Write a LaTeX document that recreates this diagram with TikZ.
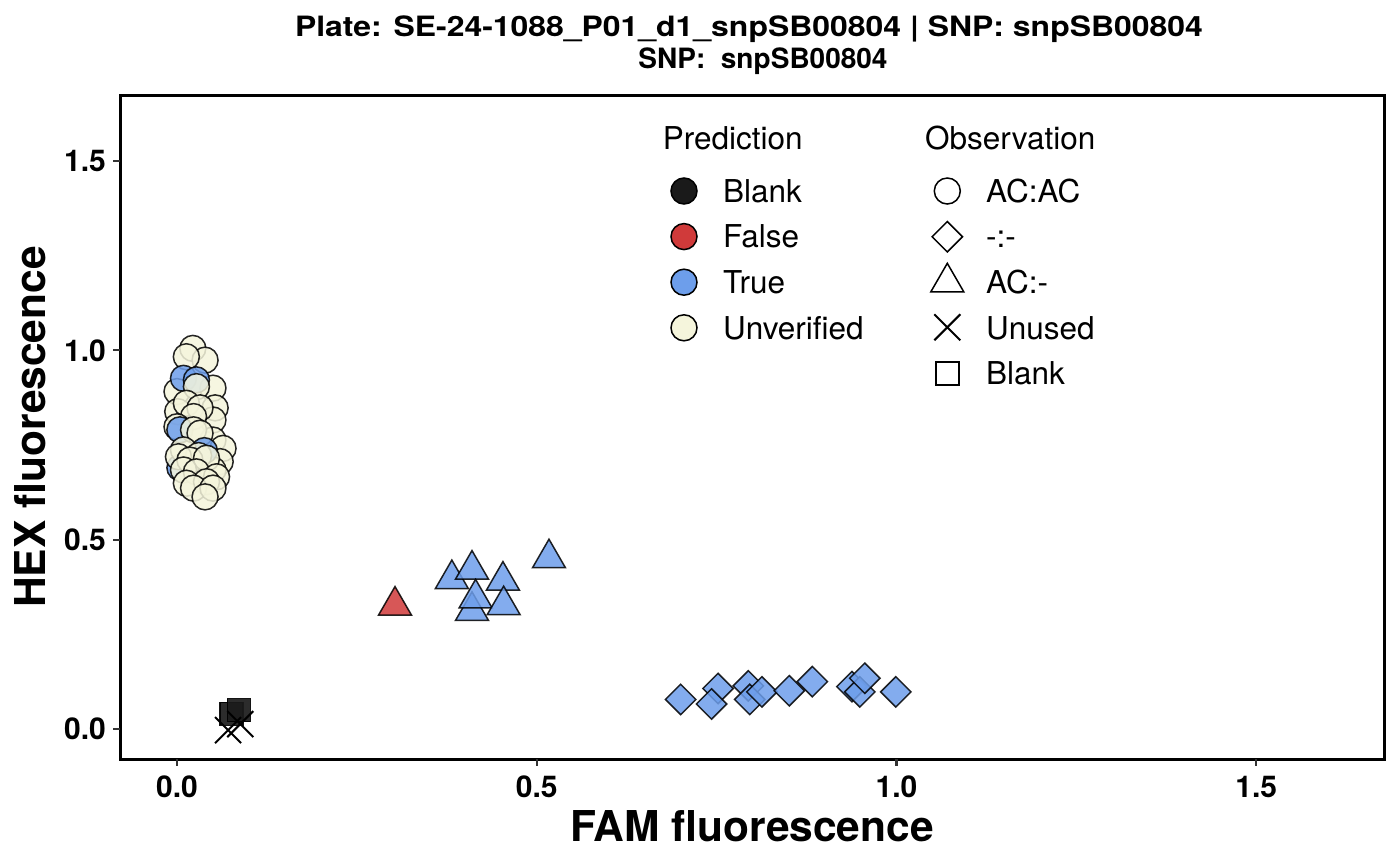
\documentclass[tikz,border=0pt]{standalone}
\usepackage{fontspec}
\setmainfont{TeX Gyre Heros}
\usetikzlibrary{shapes.geometric,shapes.misc}
\definecolor{blankfill}{RGB}{26,26,26}
\definecolor{falsefill}{RGB}{208,58,58}
\definecolor{truefill}{RGB}{109,158,235}
\definecolor{unverfill}{RGB}{245,245,220}
\definecolor{tickgray}{RGB}{51,51,51}
\newcommand{\legfont}{\fontsize{31.5}{36}\selectfont}
\newcommand{\tickfont}{\fontsize{30}{34}\selectfont\bfseries}
\newcommand{\axisfont}{\fontsize{42.5}{48}\selectfont\bfseries}
\newcommand{\titlefont}{\fontsize{28}{32}\selectfont\bfseries}

\begin{document}
\begin{tikzpicture}
    [x=1pt, y=-1pt,
 pnt/.style ={draw=black, line width=1.5pt, inner sep=0pt, opacity=0.85},
 circ/.style ={pnt, circle, minimum size=26pt},
 diam/.style ={pnt, diamond, minimum size=31pt},
 tri/.style ={pnt, regular polygon, regular polygon sides=3, minimum size=38pt},
 sqr/.style ={pnt, rectangle, minimum size=23pt},
 crs/.style ={draw=black, line width=2pt, cross out, minimum size=24pt, inner sep=0pt},
 legtext/.style ={font=\legfont, anchor=base west, inner sep=0pt},
 ticklab/.style ={font=\tickfont, inner sep=0pt},
 tick/.style ={draw=tickgray, line width=2.2pt}]
    \useasboundingbox (0,0) rectangle (1400,865);

    % title
    \node[font=\titlefont, anchor=base] (title) at (749,36.7) {\scalebox{1.14}[1]{Plate: SE-24-1088\_P01\_d1\_snpSB00804 | SNP: snpSB00804}};
    \node[font=\titlefont, anchor=base] (subtitle) at (763,68.3) {SNP:\ \ snpSB00804};

    % panel and ticks
    \node[draw, line width=3pt, minimum width=1264pt, minimum height=664pt, inner sep=0pt] (panel) at (752,427) {};
    \foreach \v in {0.0,0.5,1.0,1.5} {
        \draw[tick] ({177+719.5*\v},759) -- ++(0,7) node[ticklab, anchor=north, yshift=-9pt] {\v};
        \draw[tick] (113,{729-378.7*\v}) -- ++(7,0);
        \node[ticklab, anchor=east] at (106,{729-378.7*\v}) {\v};
    }
    \node[font=\axisfont, anchor=base] (xtitle) at (752,841) {FAM fluorescence};
    \node[font=\axisfont, anchor=base, rotate=90] (ytitle) at (45,427) {HEX fluorescence};

    % data
    \begin{scope}[shift={(177,729)}, x=719.5pt, y=378.7pt]
        \foreach \x/\y/\c [count=\i] in {0.022/1.005/unverfill, 0.039/0.974/unverfill, 0.013/0.983/unverfill,
            0.050/0.900/unverfill, 0.000/0.891/unverfill, 0.009/0.926/truefill, 0.027/0.922/truefill,
            0.027/0.904/unverfill, 0.053/0.848/unverfill, 0.050/0.816/unverfill, 0.001/0.838/unverfill,
            0.013/0.860/unverfill, 0.032/0.848/unverfill, 0.023/0.825/unverfill, 0.050/0.763/unverfill,
            0.064/0.741/unverfill, 0.000/0.798/unverfill, 0.004/0.790/truefill, 0.023/0.790/unverfill,
            0.032/0.781/unverfill, 0.060/0.706/unverfill, 0.050/0.684/unverfill, 0.004/0.690/truefill,
            0.038/0.735/truefill, 0.009/0.737/unverfill, 0.030/0.722/unverfill, 0.002/0.719/unverfill,
            0.018/0.710/unverfill, 0.041/0.715/unverfill, 0.009/0.684/unverfill, 0.027/0.679/unverfill,
            0.055/0.666/unverfill, 0.013/0.649/unverfill, 0.041/0.653/unverfill, 0.023/0.636/unverfill,
            0.050/0.636/unverfill, 0.039/0.613/unverfill}
            \node[circ, fill=\c] (c\i) at (\x,\y) {};
        \foreach \x/\y/\c [count=\i] in {0.303/0.326/falsefill, 0.382/0.396/truefill, 0.410/0.421/truefill,
            0.410/0.312/truefill, 0.415/0.345/truefill, 0.453/0.392/truefill, 0.454/0.327/truefill,
            0.517/0.451/truefill}
            \node[tri, fill=\c] (t\i) at (\x,\y) {};
        \foreach \x/\y [count=\i] in {0.700/0.078, 0.752/0.107, 0.743/0.066, 0.794/0.114, 0.796/0.078,
            0.813/0.098, 0.851/0.101, 0.883/0.125, 0.938/0.112, 0.949/0.098, 0.956/0.134, 0.999/0.098}
            \node[diam, fill=truefill] (d\i) at (\x,\y) {};
        \node[sqr, fill=blankfill, opacity=0.92] (s1) at (0.076,0.040) {};
        \node[sqr, fill=blankfill, opacity=0.92] (s2) at (0.086,0.050) {};
        \node[crs] (x1) at (0.071,-0.003) {};
        \node[crs] (x2) at (0.088,0.013) {};
    \end{scope}

    % legends
    \node[legtext] (predtitle) at (662.7,149.3) {Prediction};
    \foreach \c/\t [count=\i] in {blankfill/Blank, falsefill/False, truefill/True, unverfill/Unverified} {
        \node[circ, fill=\c, opacity=1] (pk\i) at (684,{191+45.6*(\i-1)}) {};
        \node[legtext] (pl\i) at (723,{202.3+45.6*(\i-1)}) {\t};
    }
    \node[legtext] (obstitle) at (925,149.3) {Observation};
    \node[circ, opacity=1] (ok1) at (947.3,191) {};
    \node[diam, opacity=1] (ok2) at (947.3,236.7) {};
    \node[tri, opacity=1] (ok3) at (947.3,282.3) {};
    \node[crs] (ok4) at (947.3,327.3) {};
    \node[sqr, opacity=1] (ok5) at (947.3,373.3) {};
    \foreach \t [count=\i] in {AC:AC, -:-, AC:-, Unused, Blank}
        \node[legtext] (ol\i) at (986,{202.3+45.6*(\i-1)}) {\t};
\end{tikzpicture}
\end{document}
